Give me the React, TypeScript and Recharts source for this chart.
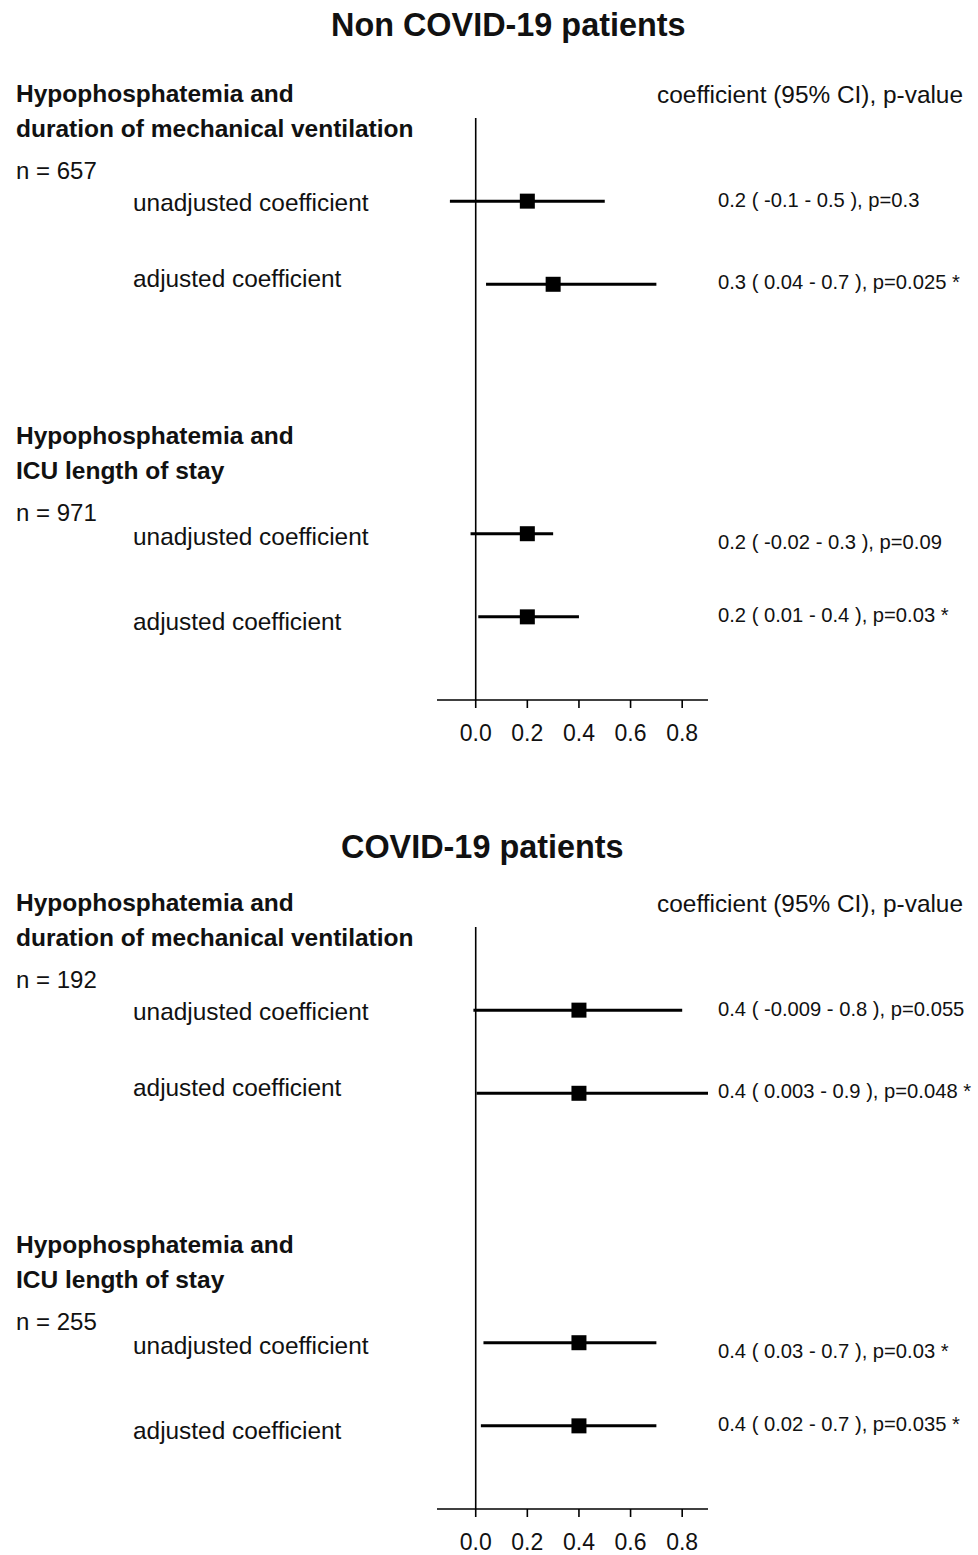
import { ScatterChart, Scatter, XAxis, YAxis, ErrorBar, ReferenceLine } from 'recharts';

const FONT = '"Liberation Sans", Arial, Helvetica, sans-serif';

// panel titles and group headings
const panelTitles = ['Non COVID-19 patients', 'COVID-19 patients'];
const outcomeHeadings = [
  ['Hypophosphatemia and', 'duration of mechanical ventilation'],
  ['Hypophosphatemia and', 'ICU length of stay'],
];
const nonCovidN = [657, 971];
const covidN = [192, 255];
const rowLabels = ['unadjusted coefficient', 'adjusted coefficient', 'unadjusted coefficient', 'adjusted coefficient'];
const rowSlots = [1, 2, 5, 6];
const xTicks = [0, 0.2, 0.4, 0.6, 0.8];

// Non COVID-19
const nonCovidEst = [0.2, 0.3, 0.2, 0.2];
const nonCovidLow = [-0.1, 0.04, -0.02, 0.01];
const nonCovidHigh = [0.5, 0.7, 0.3, 0.4];
const nonCovidP = ['0.3', '0.025', '0.09', '0.03'];
const nonCovidSig = [false, true, false, true];

// COVID-19
const covidEst = [0.4, 0.4, 0.4, 0.4];
const covidLow = [-0.009, 0.003, 0.03, 0.02];
const covidHigh = [0.8, 0.9, 0.7, 0.7];
const covidP = ['0.055', '0.048', '0.03', '0.035'];
const covidSig = [false, true, true, true];

// small vertical nudges of the row texts, as in the original layout
const rowLabelShift = [1, -6, 3, 5];
const valueLabelShift = [-1, -2, 8, -2];

const buildRows = (est: number[], low: number[], high: number[], p: string[], sig: boolean[]) =>
  est.map((e, i) => ({
    slot: rowSlots[i],
    est: e,
    err: [e - low[i], high[i] - e],
    rowLabel: rowLabels[i],
    label: `${e} ( ${low[i]} - ${high[i]} ), p=${p[i]}${sig[i] ? ' *' : ''}`,
    idx: i,
  }));

const RowMark = (props: any) => {
  const { cx, cy, payload } = props;
  return (
    <g>
      <rect x={cx - 7.5} y={cy - 7.5} width={15} height={15} fill="#000" />
      <text x={133} y={cy + rowLabelShift[payload.idx]} dy="0.35em" fontSize={24.4} fontFamily={FONT} fill="#111">
        {payload.rowLabel}
      </text>
      <text x={718} y={cy + valueLabelShift[payload.idx]} dy="0.35em" fontSize={20.2} fontFamily={FONT} fill="#111">
        {payload.label}
      </text>
    </g>
  );
};

type PanelProps = {
  top: number;
  title: string;
  titleLeft: number;
  titleTop: number;
  ns: number[];
  rows: ReturnType<typeof buildRows>;
};

const text = (style: React.CSSProperties) => ({
  position: 'absolute' as const,
  fontFamily: FONT,
  lineHeight: 1,
  whiteSpace: 'nowrap' as const,
  color: '#111',
  ...style,
});

function Panel({ top, title, titleLeft, titleTop, ns, rows }: PanelProps) {
  return (
    <div style={{ position: 'absolute', left: 0, top, width: 978, height: 800 }}>
      <div style={text({ left: titleLeft, top: titleTop, fontSize: 32.4, fontWeight: 'bold' })}>{title}</div>
      <div style={text({ right: 15, top: 83, fontSize: 24.4 })}>coefficient (95% CI), p-value</div>

      <div style={text({ left: 16, top: 82, fontSize: 24.5, fontWeight: 'bold' })}>{outcomeHeadings[0][0]}</div>
      <div style={text({ left: 16, top: 117, fontSize: 24.5, fontWeight: 'bold' })}>{outcomeHeadings[0][1]}</div>
      <div style={text({ left: 16, top: 159, fontSize: 24 })}>n = {ns[0]}</div>

      <div style={text({ left: 16, top: 424, fontSize: 24.5, fontWeight: 'bold' })}>{outcomeHeadings[1][0]}</div>
      <div style={text({ left: 16, top: 459, fontSize: 24.5, fontWeight: 'bold' })}>{outcomeHeadings[1][1]}</div>
      <div style={text({ left: 16, top: 501, fontSize: 24 })}>n = {ns[1]}</div>

      <div style={{ position: 'absolute', left: 0, top: 0 }}>
        <ScatterChart width={978} height={790} margin={{ top: 118, right: 270, bottom: 50, left: 437 }}>
          <XAxis
            type="number"
            dataKey="est"
            domain={[-0.15, 0.9]}
            ticks={xTicks}
            height={40}
            tickFormatter={(v: number) => v.toFixed(1)}
            axisLine={{ stroke: '#000', strokeWidth: 1.6 }}
            tickLine={{ stroke: '#000', strokeWidth: 1.6 }}
            tickSize={8}
            tickMargin={17}
            tick={{ fill: '#111', fontSize: 23, fontFamily: FONT }}
          />
          <YAxis type="number" dataKey="slot" domain={[0, 7]} reversed hide />
          <ReferenceLine x={0} stroke="#000" strokeWidth={1.6} />
          <Scatter data={rows} shape={RowMark} isAnimationActive={false}>
            <ErrorBar dataKey="err" direction="x" width={0} stroke="#000" strokeWidth={3} />
          </Scatter>
        </ScatterChart>
      </div>
    </div>
  );
}

export default function App() {
  const nonCovidRows = buildRows(nonCovidEst, nonCovidLow, nonCovidHigh, nonCovidP, nonCovidSig);
  const covidRows = buildRows(covidEst, covidLow, covidHigh, covidP, covidSig);
  return (
    <div style={{ position: 'absolute', left: 0, top: 0, width: 978, height: 1555, background: '#fff' }}>
      <Panel top={0} title={panelTitles[0]} titleLeft={331} titleTop={9} ns={nonCovidN} rows={nonCovidRows} />
      <Panel top={809} title={panelTitles[1]} titleLeft={341} titleTop={22} ns={covidN} rows={covidRows} />
    </div>
  );
}
